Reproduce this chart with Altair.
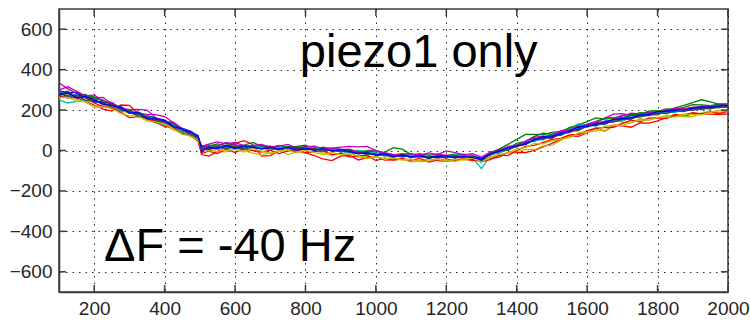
import altair as alt
import pandas as pd

# x positions shared by every trace
X = [100, 125, 150, 175, 200, 225, 250, 275, 300, 325, 350, 375, 400, 425, 450, 475,
     495, 505,
     525, 550, 575, 600, 625, 650, 675, 700, 725, 750, 775, 800, 825, 850, 875, 900,
     925, 950, 975, 1000, 1025, 1050, 1075, 1100, 1125, 1150, 1175, 1200, 1225, 1250,
     1275, 1300, 1325, 1350, 1375, 1400, 1425, 1450, 1475, 1500, 1525, 1550, 1575,
     1600, 1625, 1650, 1675, 1700, 1725, 1750, 1775, 1800, 1825, 1850, 1875, 1900,
     1925, 1950, 1975, 2000]

b1 = [295, 285, 288, 263, 253, 230, 223, 217, 193, 175,
      173, 154, 133, 132, 105, 92, 55, -10, 17, 12,
      26, 18, 10, 21, 14, 4, 14, 11, 16, 6,
      8, 9, -2, 1, -13, -10, -8, -23, -21, -30,
      -23, -33, -29, -26, -34, -29, -36, -25, -33, -45,
      -17, -10, 11, 24, 32, 55, 66, 63, 84, 99,
      102, 123, 128, 131, 151, 155, 158, 172, 183, 184,
      185, 199, 202, 203, 213, 213, 218, 218]

g1 = [265, 270, 273, 278, 255, 250, 225, 213, 186, 190,
      170, 162, 142, 120, 108, 83, 52, 25, 22, 33,
      23, 27, 20, 17, 26, 18, 13, 20, 13, 20,
      11, 5, 10, 5, -4, 0, -9, -17, -8, 14,
      7, -20, -26, -20, -29, -24, -18, -24, -28, -40,
      -10, 7, 30, 55, 80, 80, 78, 90, 95, 110,
      127, 143, 161, 155, 160, 174, 178, 179, 195, 197,
      198, 211, 223, 237, 251, 240, 228, 228]

r1 = [290, 280, 260, 243, 225, 205, 195, 225, 223, 183,
      155, 137, 133, 110, 95, 70, 50, -20, -28, -5,
      23, 35, 49, 30, -28, -25, 0, 15, -7, -12,
      -25, -42, -50, -28, -23, -47, -35, -30, -48, -46,
      -43, -55, -51, -42, -50, -54, -47, -42, -50, -45,
      -40, -33, -10, -10, -10, 0, 18, 35, 55, 72,
      70, 88, 111, 95, 125, 122, 115, 137, 135, 147,
      163, 178, 168, 182, 181, 180, 178, 181]

c1 = [250, 235, 243, 248, 240, 240, 205, 197, 190, 173,
      171, 142, 135, 126, 85, 75, 58, -2, 18, 11,
      20, 7, 19, 9, 15, 8, 18, 5, 12, 5,
      11, -1, 2, 5, -13, -9, -21, -18, -18, -29,
      -24, -35, -25, -34, -29, -38, -28, -28, -38, -90,
      -25, -2, 1, 23, 43, 47, 64, 69, 92, 107,
      133, 124, 122, 138, 153, 154, 157, 172, 177, 188,
      184, 196, 203, 210, 208, 207, 217, 222]

m1 = [335, 305, 283, 263, 260, 263, 230, 200, 193, 186,
      177, 177, 168, 137, 105, 83, 65, 20, 32, 43,
      33, 40, 24, 20, 20, 22, 14, 16, 18, 10,
      10, 11, 12, 17, 20, 18, 20, 0, -13, -21,
      -20, -27, -19, -26, -17, -24, -30, -20, -25, -43,
      -14, -6, 15, 25, 47, 58, 64, 80, 90, 100,
      110, 130, 144, 160, 180, 182, 172, 175, 190, 192,
      202, 201, 203, 214, 216, 216, 217, 224]

y1 = [270, 280, 253, 238, 220, 225, 215, 193, 191, 170,
      150, 147, 128, 102, 92, 68, 54, 15, 4, -5,
      -7, 10, -1, -13, -23, -10, 0, -20, -7, -12,
      -3, -12, -25, -13, -13, -32, -30, -28, -43, -36,
      -43, -55, -51, -42, -47, -52, -42, -48, -42, -50,
      -30, -28, -10, -5, 5, 5, 23, 25, 50, 72,
      80, 88, 106, 95, 120, 137, 140, 157, 150, 162,
      173, 168, 168, 167, 186, 195, 188, 196]

k1 = [275, 283, 265, 264, 243, 239, 214, 208, 184, 183,
      162, 158, 136, 126, 95, 82, 57, 12, 2, 20,
      12, 18, 6, 19, 10, 15, 6, 13, 2, 10,
      2, 9, -2, 1, -11, -7, -17, -17, -28, -24,
      -32, -24, -34, -30, -37, -28, -34, -27, -34, -47,
      -18, -13, 9, 18, 41, 47, 60, 61, 85, 89,
      109, 116, 132, 132, 147, 147, 164, 165, 178, 176,
      193, 191, 202, 199, 208, 206, 216, 214]

b2 = [285, 267, 278, 260, 239, 243, 232, 202, 194, 174,
      170, 160, 150, 125, 110, 95, 70, 5, 9, 21,
      16, 19, 22, 12, 17, 12, 5, 16, 11, 4,
      12, 5, 5, -6, -2, -8, -17, -12, -20, -20,
      -30, -25, -28, -24, -36, -30, -26, -33, -25, -41,
      -12, -4, 2, 26, 37, 59, 62, 73, 78, 98,
      108, 126, 131, 145, 149, 160, 172, 173, 184, 187,
      196, 205, 204, 212, 210, 218, 225, 226]

g2 = [285, 293, 263, 270, 265, 243, 235, 209, 198, 180,
      173, 150, 144, 134, 104, 90, 60, 18, 26, 21,
      38, 17, 26, 40, 22, 14, 25, 16, 20, 26,
      8, 17, 8, -1, 2, -7, -1, 0, -15, -23,
      -16, -24, -16, -28, -22, -30, -24, -18, -25, -50,
      -12, 4, 11, 35, 45, 70, 86, 80, 90, 114,
      120, 126, 138, 160, 163, 162, 174, 187, 183, 194,
      206, 203, 213, 227, 226, 222, 231, 231]

r2 = [272, 260, 263, 263, 235, 217, 212, 190, 163, 168,
      160, 140, 118, 114, 85, 75, 45, -15, -3, -15,
      8, -10, 9, 0, -8, 2, -15, -2, 3, -10,
      -5, -2, -20, -15, -33, -27, -23, -50, -38, -48,
      -40, -48, -39, -57, -47, -42, -52, -38, -45, -55,
      -45, -23, -25, 0, 20, 25, 40, 55, 60, 77,
      80, 98, 111, 113, 115, 134, 150, 142, 160, 162,
      158, 175, 176, 187, 181, 190, 183, 194]

c2 = [290, 270, 276, 246, 249, 227, 226, 195, 191, 172,
      173, 148, 126, 127, 90, 82, 64, 2, 14, 25,
      13, 23, 11, 27, 16, 4, 18, 12, 3, 14,
      15, 1, 8, 1, -14, 0, -10, -12, -26, -20,
      -26, -22, -35, -22, -29, -34, -20, -24, -26, -60,
      -15, -14, 13, 22, 45, 54, 53, 75, 86, 94,
      113, 114, 136, 141, 147, 146, 168, 171, 173, 188,
      191, 188, 206, 204, 202, 216, 223, 220]

m2 = [300, 315, 293, 270, 275, 243, 238, 210, 202, 203,
      200, 162, 143, 140, 108, 92, 68, 15, 24, 23,
      40, 29, 19, 25, 30, 16, 22, 30, 12, 18,
      21, 9, 12, 5, 7, -7, -5, -2, -11, -20,
      -18, -15, -23, -12, -20, -2, -10, -22, -16, -33,
      -8, 0, 20, 26, 45, 66, 70, 73, 98, 102,
      119, 126, 138, 141, 155, 170, 185, 181, 183, 194,
      194, 208, 208, 210, 220, 220, 219, 228]

y2 = [260, 265, 243, 243, 215, 215, 208, 183, 173, 170,
      145, 140, 133, 107, 80, 72, 50, 5, -3, 7,
      0, 5, -8, 10, -3, -15, -2, 2, -12, 3,
      -10, -19, -10, -21, -16, -27, -40, -32, -41, -36,
      -48, -42, -56, -50, -42, -47, -54, -42, -38, -55,
      -35, -18, -13, 8, 15, 35, 33, 47, 58, 62,
      87, 93, 96, 120, 125, 124, 138, 152, 150, 164,
      166, 165, 180, 177, 176, 188, 198, 196]

k2 = [288, 269, 272, 248, 251, 231, 228, 203, 193, 170,
      169, 146, 140, 117, 108, 77, 65, 22, 6, 19,
      10, 20, 11, 22, 7, 13, 4, 14, 16, 5,
      10, -3, 3, -7, -1, -14, -10, -24, -20, -32,
      -20, -33, -26, -38, -28, -34, -26, -35, -27, -50,
      -16, -2, 2, 25, 31, 56, 56, 73, 75, 96,
      99, 123, 123, 142, 141, 155, 155, 173, 173, 186,
      183, 196, 192, 206, 203, 215, 211, 222]

b3 = [275, 287, 260, 268, 249, 229, 222, 213, 185, 188,
      157, 156, 148, 118, 106, 88, 74, -2, 16, 9,
      24, 10, 22, 17, 8, 17, 8, 15, 2, 11,
      1, 9, -3, 4, -6, -17, -11, -22, -17, -29,
      -23, -32, -27, -38, -29, -26, -36, -28, -35, -43,
      -18, -3, 13, 22, 30, 53, 68, 67, 86, 96,
      115, 120, 132, 138, 153, 157, 162, 175, 179, 192,
      193, 201, 201, 208, 216, 214, 221, 222]

BLUE, GREEN, RED, CYAN, MAGENTA, YELLOW, DARK = (
    "#0000FF", "#008000", "#FF0000", "#00BFBF", "#BF00BF", "#BFBF00", "#404040")

TRACE_NAMES = ["b1", "g1", "r1", "c1", "m1", "y1", "k1",
               "b2", "g2", "r2", "c2", "m2", "y2", "k2", "b3"]
TRACE_VALUES = [b1, g1, r1, c1, m1, y1, k1, b2, g2, r2, c2, m2, y2, k2, b3]
TRACE_COLORS = [BLUE, GREEN, RED, CYAN, MAGENTA, YELLOW, DARK,
                BLUE, GREEN, RED, CYAN, MAGENTA, YELLOW, DARK, BLUE]

XTICKS = [200, 400, 600, 800, 1000, 1200, 1400, 1600, 1800, 2000]
YTICKS = [-600, -400, -200, 0, 200, 400, 600]

ANN_X = [784, 228]
ANN_Y = [415, -548]
ANN_TEXT = ["piezo1 only", "ΔF = -40 Hz"]

rows = []
for name, ys in zip(TRACE_NAMES, TRACE_VALUES):
    assert len(ys) == len(X), (name, len(ys))
    for i, (xv, yv) in enumerate(zip(X, ys)):
        rows.append({"x": xv, "y": yv, "trace": name, "i": i})
df = pd.DataFrame(rows)

W, H = 669, 283
FRAME = "#3a3a3a"

xscale = alt.Scale(domain=[100, 2000], nice=False, zero=False)
yscale = alt.Scale(domain=[-700, 700], nice=False, zero=False)
XAXIS = alt.Axis(values=XTICKS, title=None, grid=True, ticks=False, format="d",
                 labelPadding=7, labelFlush=False)
YAXIS = alt.Axis(values=YTICKS, title=None, grid=True, ticks=False, format="d",
                 labelPadding=7)

lines = alt.Chart(df).mark_line(strokeWidth=1.3, clip=True).encode(
    x=alt.X("x:Q", scale=xscale, axis=XAXIS),
    y=alt.Y("y:Q", scale=yscale, axis=YAXIS),
    color=alt.Color("trace:N", scale=alt.Scale(domain=TRACE_NAMES, range=TRACE_COLORS), legend=None),
    detail="trace:N",
    order="i:Q",
)

xt = pd.DataFrame({"x": XTICKS})
yt = pd.DataFrame({"y": YTICKS})
TL = 7

bottom_ticks = alt.Chart(xt).mark_rule(color=FRAME, strokeWidth=1.5).encode(
    x=alt.X("x:Q", scale=xscale, axis=XAXIS), y=alt.value(H), y2=alt.value(H - TL))
top_ticks = alt.Chart(xt).mark_rule(color=FRAME, strokeWidth=1.5).encode(
    x=alt.X("x:Q", scale=xscale, axis=XAXIS), y=alt.value(0), y2=alt.value(TL))
left_ticks = alt.Chart(yt).mark_rule(color=FRAME, strokeWidth=1.5).encode(
    y=alt.Y("y:Q", scale=yscale, axis=YAXIS), x=alt.value(0), x2=alt.value(TL))
right_ticks = alt.Chart(yt).mark_rule(color=FRAME, strokeWidth=1.5).encode(
    y=alt.Y("y:Q", scale=yscale, axis=YAXIS), x=alt.value(W), x2=alt.value(W - TL))

ann = pd.DataFrame({"x": ANN_X, "y": ANN_Y, "t": ANN_TEXT})
texts = alt.Chart(ann).mark_text(align="left", baseline="alphabetic", fontSize=47,
                                 font="Liberation Sans", color="black").encode(
    x=alt.X("x:Q", scale=xscale, axis=XAXIS),
    y=alt.Y("y:Q", scale=yscale, axis=YAXIS),
    text="t:N",
)

chart = alt.layer(lines, bottom_ticks, top_ticks, left_ticks, right_ticks, texts).properties(
    width=W, height=H, autosize="none",
    padding={"left": 59, "top": 9, "right": 22, "bottom": 28},
    background="white",
).configure_axis(
    labelFont="Liberation Sans", labelFontSize=19, labelColor="#262626",
    domainColor=FRAME, domainWidth=1.5,
    gridColor="#000000", gridDash=[1.5, 5], gridWidth=1, gridOpacity=0.85,
).configure_view(stroke=FRAME, strokeWidth=1.5)

chart.save("out.html", embed_options={"renderer": "svg", "actions": False})
